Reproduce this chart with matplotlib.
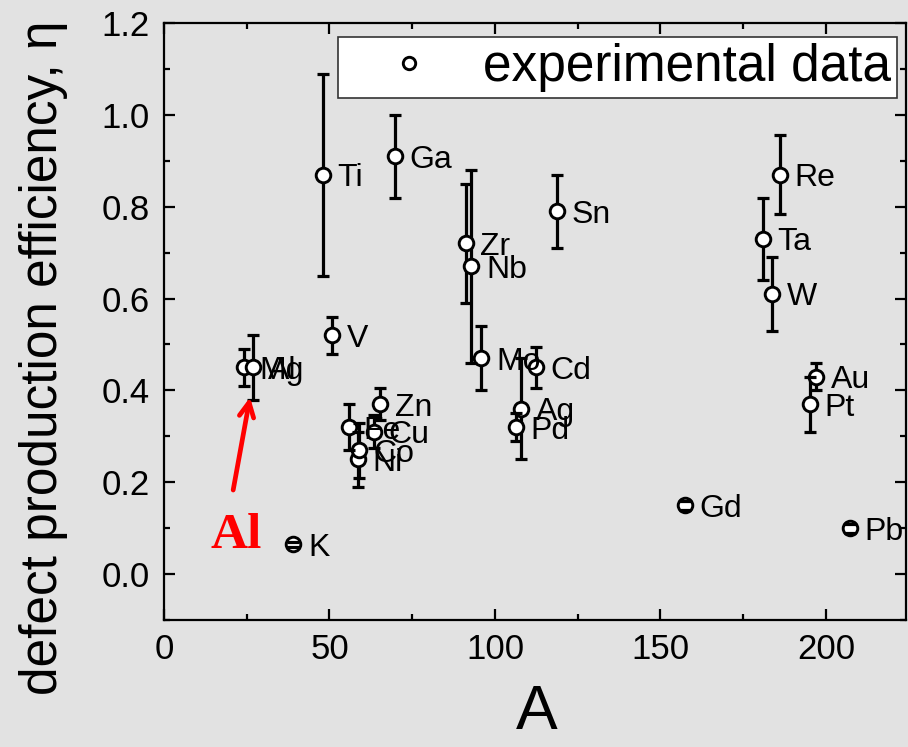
import matplotlib
matplotlib.use("Agg")
import matplotlib.pyplot as plt
from matplotlib.ticker import MultipleLocator

plt.rcParams['font.family'] = ['Liberation Sans', 'DejaVu Sans']

# ---- data -------------------------------------------------------------
elements = ['Mg', 'Al', 'K', 'Ti', 'V', 'Fe', 'Ni', 'Co', 'Cu', 'Zn', 'Ga',
            'Zr', 'Nb', 'Mo', 'Pd', 'Ag', 'Cd', 'Sn', 'Gd', 'Ta', 'W', 'Re',
            'Pt', 'Au', 'Pb']
mass_A = [24.3, 27.0, 39.1, 47.9, 50.9, 55.8, 58.7, 58.9, 63.5, 65.4, 69.7,
          91.2, 92.9, 95.9, 106.4, 107.9, 112.4, 118.7, 157.3, 180.9, 183.8,
          186.2, 195.1, 197.0, 207.2]
eta = [0.45, 0.45, 0.065, 0.87, 0.52, 0.32, 0.25, 0.27, 0.31, 0.37, 0.91,
       0.72, 0.67, 0.47, 0.32, 0.36, 0.45, 0.79, 0.15, 0.73, 0.61, 0.87,
       0.37, 0.43, 0.10]
eta_err = [0.04, 0.07, 0.005, 0.22, 0.04, 0.05, 0.06, 0.06, 0.036, 0.035,
           0.09, 0.13, 0.21, 0.07, 0.03, 0.11, 0.045, 0.08, 0.01, 0.09,
           0.08, 0.086, 0.06, 0.03, 0.01]
series_label = 'experimental data'
x_title = 'A'
y_title = 'defect production efficiency, \u03b7'
highlight = 'Al'
# -----------------------------------------------------------------------

bg = '#e2e2e2'
fig = plt.figure(figsize=(9.08, 7.47), dpi=100, facecolor=bg)
ax = fig.add_axes([0.18062, 0.17001, 0.81718, 0.79920])
ax.set_facecolor(bg)

cont = ax.errorbar(mass_A, eta, yerr=eta_err, fmt='none', ecolor='black',
                   elinewidth=2.3, capsize=4.5, capthick=2.3, zorder=2)
for cl in cont[1]:
    cl.set_zorder(4)
ax.plot(mass_A, eta, 'o', ms=10.5, mfc='white', mec='black', mew=2.1,
        zorder=3, label=series_label)

for name, x, y in zip(elements, mass_A, eta):
    ax.annotate(name, (x, y), xytext=(10.5, 0), textcoords='offset points',
                ha='left', va='center_baseline', fontsize=23, zorder=5)

# red highlight arrow and label
i_hl = elements.index(highlight)
ax.annotate('', xy=(mass_A[i_hl] - 1.0, eta[i_hl] - eta_err[i_hl] + 0.005),
            xytext=(20.9, 0.183),
            arrowprops=dict(arrowstyle='->', color='red', lw=3.4,
                            mutation_scale=26, shrinkA=0, shrinkB=0),
            zorder=6)
ax.text(13.9, 0.057, highlight, color='red', fontsize=37, fontweight='bold',
        family='Liberation Serif', ha='left', va='baseline', zorder=6)

ax.set_xlim(0, 224.2)
ax.set_ylim(-0.1, 1.2)
ax.xaxis.set_major_locator(MultipleLocator(50))
ax.xaxis.set_minor_locator(MultipleLocator(25))
ax.yaxis.set_major_locator(MultipleLocator(0.2))
ax.yaxis.set_minor_locator(MultipleLocator(0.1))
ax.yaxis.set_major_formatter(matplotlib.ticker.FormatStrFormatter('%.1f'))

ax.tick_params(which='both', direction='in', top=True, right=True,
               width=1.6, colors='black')
ax.tick_params(which='major', length=8, labelsize=25)
ax.tick_params(axis='x', which='major', pad=9)
ax.tick_params(axis='y', which='major', pad=10)
ax.tick_params(which='minor', length=4.5)
for s in ax.spines.values():
    s.set_linewidth(1.6)
    s.set_color('black')

ax.set_xlabel(x_title, fontsize=45)
ax.xaxis.set_label_coords(0.503, -0.1055)
ax.set_ylabel(y_title, fontsize=37)
ax.yaxis.set_label_coords(-0.129, 0.439)

leg = ax.legend(loc='upper right', bbox_to_anchor=(0.988, 0.9765),
                borderaxespad=0, fontsize=37, frameon=True, fancybox=False,
                framealpha=1, facecolor='white', edgecolor='#333333',
                borderpad=0.12, handlelength=2.56, handletextpad=0.15,
                markerscale=0.85)
leg.get_frame().set_linewidth(1.2)
leg.set_zorder(7)

fig.savefig('out.png', dpi=100, facecolor=bg)
